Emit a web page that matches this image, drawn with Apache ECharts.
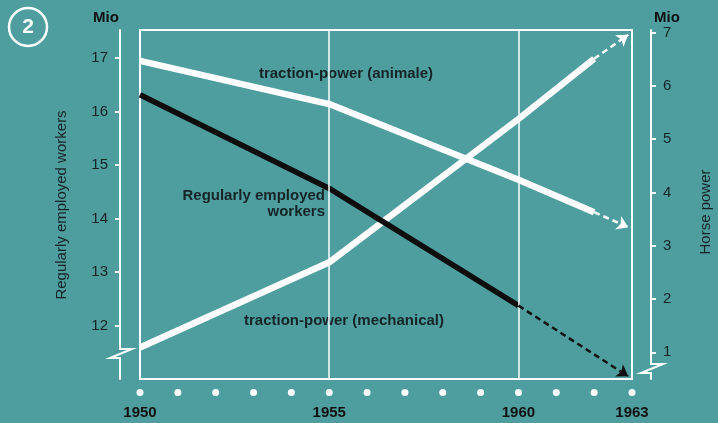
<!DOCTYPE html>
<html>
<head>
<meta charset="utf-8">
<script src="https://cdn.jsdelivr.net/npm/echarts@6/dist/echarts.min.js"></script>
<style>
html, body { margin: 0; padding: 0; background: #4e9ea0; }
#chart { width: 718px; height: 423px; }
</style>
</head>
<body>
<div id="chart"></div>
<script>
// values
var years = [1950, 1955, 1960, 1962];
var workers = [16.31, 14.56, 12.37];          // Mio, left axis (1950..1960)
var animal = [6.47, 5.66, 4.24, 3.63];         // Mio, right axis
var mechanical = [1.09, 2.69, 5.38, 6.51];     // Mio, right axis
var projYear = 1962.9;
var workersProj = 11.05;
var animalProj = 3.35;
var mechanicalProj = 6.96;
var leftTicks = [12, 13, 14, 15, 16, 17];
var rightTicks = [1, 2, 3, 4, 5, 6, 7];
var yearLabels = [1950, 1955, 1960, 1963];
var markYears = [1955, 1960];

var BG = '#4e9ea0';
var INK = '#172425';
var FONT = 'Liberation Sans';

function pairs (xs, ys) {
  var out = []
  for (var i = 0; i < ys.length; i++) out.push([xs[i], ys[i]])
  return out
}

// dashed forecast with arrow head
function projection (x0, y0, x1, y1, color) {
  return {
    silent: true,
    symbol: ['none', 'arrow'],
    symbolSize: 11,
    label: { show: false },
    lineStyle: { color: color, width: 2.5, type: [6, 4], opacity: 1 },
    data: [[{ coord: [x0, y0] }, { coord: [x1, y1] }]]
  }
}

var chart = echarts.init(document.getElementById('chart'))

var option = {
  backgroundColor: BG,
  animation: false,
  textStyle: { fontFamily: FONT },
  grid: {
    left: 140, right: 86, top: 30, bottom: 44,
    show: true, borderColor: '#fff', borderWidth: 2, backgroundColor: 'transparent'
  },
  xAxis: {
    type: 'value', min: 1950, max: 1963, interval: 1,
    axisLine: { show: false }, axisTick: { show: false }, splitLine: { show: false },
    axisLabel: {
      margin: 10,
      showMinLabel: true, showMaxLabel: true,
      formatter: function (v) {
        var s = '{d| }'
        if (yearLabels.indexOf(v) >= 0) s += '\n{y|' + v + '}'
        return s
      },
      rich: {
        d: { width: 7, height: 7, lineHeight: 7, fontSize: 6, borderRadius: 3.5, backgroundColor: '#fff' },
        y: { fontFamily: FONT, fontWeight: 'bold', fontSize: 15, color: '#111', lineHeight: 33 }
      }
    }
  },
  yAxis: [{
    type: 'value', min: 11, max: 17.52, position: 'left', offset: 20,
    axisLine: { show: true, lineStyle: { color: '#fff', width: 2 } },
    axisTick: { show: true, length: 5, customValues: leftTicks, lineStyle: { color: '#fff', width: 2 } },
    axisLabel: { customValues: leftTicks, color: INK, fontSize: 15, margin: 12, fontFamily: FONT },
    splitLine: { show: false }
  }, {
    type: 'value', min: 0.5, max: 7.05, position: 'right', offset: 19,
    axisLine: { show: true, lineStyle: { color: '#fff', width: 2 } },
    axisTick: { show: true, length: 5, customValues: rightTicks, lineStyle: { color: '#fff', width: 2 } },
    axisLabel: { customValues: rightTicks, color: INK, fontSize: 15, margin: 12, fontFamily: FONT },
    splitLine: { show: false }
  }],
  series: [{
    name: 'years',
    type: 'line',
    data: [],
    markLine: {
      silent: true, symbol: 'none', label: { show: false },
      lineStyle: { color: '#fff', width: 1.5, type: 'solid' },
      data: markYears.map(function (y) { return { xAxis: y } })
    }
  }, {
    name: 'traction-power (mechanical)',
    type: 'line', yAxisIndex: 1, symbol: 'none', z: 3,
    lineStyle: { color: '#fff', width: 6.5 },
    data: pairs(years, mechanical),
    markLine: projection(years[3], mechanical[3], projYear, mechanicalProj, '#fff')
  }, {
    name: 'traction-power (animale)',
    type: 'line', yAxisIndex: 1, symbol: 'none', z: 3,
    lineStyle: { color: '#fff', width: 6.5 },
    data: pairs(years, animal),
    markLine: projection(years[3], animal[3], projYear, animalProj, '#fff')
  }, {
    name: 'Regularly employed workers',
    type: 'line', yAxisIndex: 0, symbol: 'none', z: 4,
    lineStyle: { color: '#0d0d0d', width: 5.5 },
    data: pairs(years, workers),
    markLine: projection(years[2], workers[2], projYear, workersProj, '#111')
  }],
  graphic: [
    { type: 'circle', shape: { cx: 28, cy: 27, r: 19 }, style: { fill: 'none', stroke: '#fff', lineWidth: 2.5 } },
    { type: 'text', x: 28, y: 27, style: { text: '2', fill: '#fff', font: 'bold 21px ' + FONT, align: 'center', verticalAlign: 'middle' } },
    { type: 'text', x: 106, y: 18, style: { text: 'Mio', fill: '#111', font: 'bold 15px ' + FONT, align: 'center', verticalAlign: 'middle' } },
    { type: 'text', x: 667, y: 18, style: { text: 'Mio', fill: '#111', font: 'bold 15px ' + FONT, align: 'center', verticalAlign: 'middle' } },
    { type: 'text', x: 62, y: 205, rotation: Math.PI / 2, style: { text: 'Regularly employed workers', fill: INK, font: '15px ' + FONT, align: 'center', verticalAlign: 'middle' } },
    { type: 'text', x: 706, y: 212, rotation: Math.PI / 2, style: { text: 'Horse power', fill: INK, font: '15px ' + FONT, align: 'center', verticalAlign: 'middle' } },
    { type: 'text', x: 346, y: 74, style: { text: 'traction-power (animale)', fill: INK, font: 'bold 15px ' + FONT, align: 'center', verticalAlign: 'middle' } },
    { type: 'text', x: 325, y: 196, style: { text: 'Regularly employed', fill: INK, font: 'bold 15px ' + FONT, align: 'right', verticalAlign: 'middle' } },
    { type: 'text', x: 325, y: 212, style: { text: 'workers', fill: INK, font: 'bold 15px ' + FONT, align: 'right', verticalAlign: 'middle' } },
    { type: 'text', x: 344, y: 321, style: { text: 'traction-power (mechanical)', fill: INK, font: 'bold 15px ' + FONT, align: 'center', verticalAlign: 'middle' } },
    // axis breaks
    { type: 'rect', shape: { x: 114, y: 346, width: 12, height: 13 }, style: { fill: BG }, z: 100 },
    { type: 'polyline', shape: { points: [[120, 345], [120, 349], [132, 349], [110, 358], [120, 358], [120, 361]] }, style: { stroke: '#fff', lineWidth: 2, fill: 'none' }, z: 101 },
    { type: 'rect', shape: { x: 645, y: 361, width: 12, height: 13 }, style: { fill: BG }, z: 100 },
    { type: 'polyline', shape: { points: [[651, 360], [651, 364], [663, 364], [641, 373], [651, 373], [651, 376]] }, style: { stroke: '#fff', lineWidth: 2, fill: 'none' }, z: 101 }
  ]
}

chart.setOption(option)
</script>
</body>
</html>
